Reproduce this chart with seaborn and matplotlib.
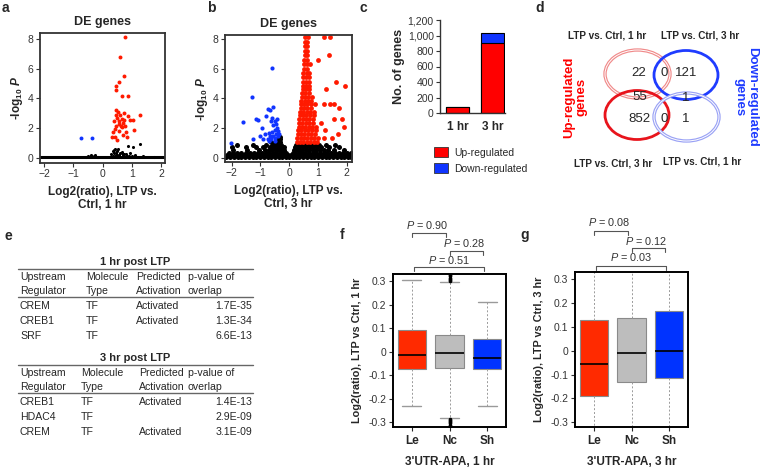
import numpy as np
import pandas as pd
import seaborn as sns
import matplotlib.pyplot as plt
from matplotlib.patches import Ellipse, Patch

sns.set_style('white')
plt.rcParams['font.family'] = ['Liberation Sans', 'DejaVu Sans']
plt.rcParams['mathtext.fontset'] = 'custom'
plt.rcParams['mathtext.rm'] = 'Liberation Sans'
plt.rcParams['mathtext.it'] = 'Liberation Sans:italic'
plt.rcParams['mathtext.bf'] = 'Liberation Sans:bold'
plt.rcParams['mathtext.bfit'] = 'Liberation Sans:italic:bold'

RED = '#ff1a00'
BLUE = '#1034ff'

# ---------------- data ----------------
# a: volcano, 1 hr  (log2 ratio, -log10 P)
a_up = [(0.78, 8.15), (0.60, 6.76), (0.73, 5.50), (0.56, 5.10), (0.46, 4.83), (0.47, 4.56),
        (0.67, 4.18), (0.86, 4.16), (0.45, 3.22), (0.53, 3.10), (0.73, 3.02), (1.28, 2.86),
        (0.45, 2.90), (0.60, 2.90), (0.48, 2.70), (0.66, 2.63), (0.88, 2.80), (0.38, 2.46),
        (0.55, 2.46), (0.71, 2.35), (1.03, 2.57), (0.46, 2.16), (0.62, 2.12), (0.77, 2.16),
        (0.43, 1.93), (0.58, 1.84), (0.80, 1.77), (1.09, 1.88), (0.33, 1.43), (0.43, 1.43),
        (0.37, 1.77), (0.69, 1.54), (0.83, 1.38), (0.51, 1.20), (0.66, 2.05), (0.56, 2.30),
        (0.73, 2.57), (0.94, 2.57)]
a_down = [(-0.74, 1.37), (-0.36, 1.37)]
a_ns = [(0.88, 0.83), (1.28, 0.94), (1.04, 0.76), (0.53, 0.58), (0.38, 0.53), (0.66, 0.42),
        (0.45, 0.35), (0.30, 0.25), (0.35, 0.15), (0.40, 0.30), (0.50, 0.20), (0.55, 0.10),
        (0.60, 0.30), (0.70, 0.18), (0.75, 0.05), (0.80, 0.25), (0.90, 0.12), (0.95, 0.30),
        (1.00, 0.10), (0.32, 0.08), (0.42, 0.12), (0.48, 0.05), (0.58, 0.22), (0.62, 0.08),
        (0.68, 0.35), (0.72, 0.28), (0.85, 0.15), (1.10, 0.20), (1.38, 0.12), (1.75, 0.08),
        (-0.50, 0.12), (-0.40, 0.20), (-0.30, 0.10), (-0.25, 0.18), (-0.20, 0.08), (-0.55, 0.06),
        (-0.15, 0.05), (0.35, 0.45), (0.50, 0.48), (0.44, 0.62)]
a_base_x = [-2.14, -1.62, -1.05, -0.48, 0.07, 0.61, 1.18, 1.73, 2.14]
a_base_y = [0.03] * len(a_base_x)

# b: volcano, 3 hr ; dense clouds listed by row of -log10 P
b_ns_rows = {
    0.04: [-2.18, -2.05, -1.92, -1.79, -1.66, -1.53, -1.4, -1.27, -1.14, -1.01, -0.88, -0.75,
           -0.62, -0.49, -0.36, -0.24, -0.12, 0.0, 0.12, 0.24, 0.36, 0.49, 0.62, 0.75, 0.88,
           1.01, 1.14, 1.27, 1.4, 1.53, 1.66, 1.79, 1.92, 2.05, 2.17],
    0.20: [-2.15, -2.0, -1.86, -1.72, -1.58, -1.44, -1.3, -1.16, -1.02, -0.88, -0.74, -0.6,
           -0.47, -0.34, -0.22, -0.1, -0.04, 0.05, 0.1, 0.2, 0.32, 0.45, 0.58, 0.71, 0.84, 0.97,
           1.1, 1.23, 1.36, 1.5, 1.64, 1.78, 1.92, 2.06, 2.16],
    0.36: [-2.1, -1.95, -1.8, -1.66, -1.5, -1.36, -1.22, -1.08, -0.95, -0.82, -0.7, -0.57,
           -0.45, -0.33, -0.2, -0.12, 0.12, 0.22, 0.33, 0.45, 0.57, 0.7, 0.82, 0.95, 1.08, 1.2,
           1.33, 1.47, 1.6, 1.74, 1.88, 2.0, 2.14],
    0.54: [-1.95, -1.45, -1.05, -0.85, -0.7, -0.58, -0.47, -0.36, -0.26, -0.16,
           0.16, 0.24, 0.34, 0.46, 0.58, 0.7, 0.82, 0.94, 1.06, 1.2, 1.36, 1.55, 1.9],
    0.72: [-2.0, -1.5, -1.15, -0.9, -0.66, -0.54, -0.44, -0.34, -0.24, -0.17, 0.2, 0.27, 0.36,
           0.48, 0.6, 0.72, 0.84, 0.96, 1.12, 1.4, 1.75],
    0.90: [-1.8, -1.25, -0.82, -0.55, -0.45, -0.36, -0.27, 0.25, 0.32, 0.42, 0.54, 0.66, 0.78,
           0.9, 1.05, 1.3, 1.6],
    1.08: [-0.62, -0.48, -0.38, -0.3],
    1.26: [-0.45, -0.36, -0.3],
    1.44: [-0.33],
}
b_up_rows = {
    1.10: [0.27, 0.38, 0.5, 0.62, 0.74, 0.86, 0.98],
    1.35: [0.29, 0.4, 0.52, 0.64, 0.76, 0.88, 1.0, 1.2, 1.5],
    1.60: [0.3, 0.41, 0.53, 0.65, 0.77, 0.9, 1.7],
    1.85: [0.32, 0.43, 0.55, 0.67, 0.79, 0.93, 1.25],
    2.10: [0.33, 0.44, 0.56, 0.68, 0.8, 0.92, 1.9],
    2.35: [0.35, 0.46, 0.58, 0.7, 0.82, 1.1],
    2.60: [0.36, 0.47, 0.59, 0.71, 0.85, 1.55, 1.85],
    2.85: [0.38, 0.49, 0.6, 0.72, 0.86],
    3.10: [0.39, 0.5, 0.61, 0.73, 0.88],
    3.35: [0.41, 0.52, 0.63, 0.75, 1.75],
    3.60: [0.42, 0.53, 0.64, 0.76, 0.9, 1.2, 1.42, 1.56],
    3.85: [0.43, 0.54, 0.65, 0.78],
    4.10: [0.45, 0.56, 0.67, 0.8],
    4.35: [0.46, 0.57, 0.68],
    4.60: [0.47, 0.58, 0.7, 1.3],
    4.85: [0.48, 0.59, 0.7, 1.95],
    5.10: [0.49, 0.6, 0.7, 1.62],
    5.40: [0.5, 0.6, 0.68],
    5.70: [0.5, 0.61, 0.69],
    6.00: [0.51, 0.62],
    6.30: [0.52, 0.62, 0.72],
    6.60: [0.53, 0.63, 1.0],
    6.90: [0.54, 0.64, 1.38],
    7.20: [0.55, 0.63],
    7.50: [0.56, 0.62],
    7.80: [0.56, 0.63],
    8.10: [0.57, 0.66, 1.2, 1.43],
}
b_down = [(-2.03, 1.0), (-1.6, 2.4), (-1.3, 4.1), (-1.15, 2.6), (-1.07, 2.55), (-0.95, 2.0),
          (-1.25, 1.3), (-0.6, 6.05), (-0.55, 3.45), (-0.72, 3.3), (-0.68, 3.2), (-0.8, 2.8),
          (-0.63, 2.5), (-0.5, 2.45), (-0.45, 2.3), (-0.55, 2.2), (-0.42, 2.0), (-0.38, 1.8),
          (-0.5, 1.85), (-0.6, 1.75), (-0.7, 1.7), (-0.85, 1.6), (-0.45, 1.6), (-0.36, 1.6),
          (-0.4, 1.45), (-0.48, 1.35), (-0.55, 1.5), (-0.65, 1.45), (-0.75, 1.3), (-0.9, 1.3),
          (-0.5, 1.15), (-0.7, 1.15), (-0.62, 1.3), (-1.0, 1.5), (-0.43, 2.6), (-0.58, 2.65)]

# c: number of DE genes
times = ['1 hr', '3 hr']
n_up = [77, 907]
n_down = [2, 122]

# d: venn counts
venn_counts = {'up1': 22, 'up1_down3': 0, 'down3': 121, 'up1_up3': 55, 'down3_down1': 1,
               'up3': 852, 'up3_down1': 0, 'down1': 1}

# e: upstream regulators
tab_header = [['Upstream', 'Molecule', 'Predicted', 'p-value of'],
              ['Regulator', 'Type', 'Activation', 'overlap']]
tab1_rows = [['CREM', 'TF', 'Activated', '1.7E-35'],
             ['CREB1', 'TF', 'Activated', '1.3E-34'],
             ['SRF', 'TF', '', '6.6E-13']]
tab3_rows = [['CREB1', 'TF', 'Activated', '1.4E-13'],
             ['HDAC4', 'TF', '', '2.9E-09'],
             ['CREM', 'TF', 'Activated', '3.1E-09']]

# f, g: box statistics (q1, median, q3, whisker low, whisker high)
apa_groups = ['Le', 'Nc', 'Sh']
apa_colors = ['#ff2a00', '#bdbdbd', '#0033ff']
f_q1 = [-0.072, -0.070, -0.075]
f_med = [-0.012, -0.005, -0.027]
f_q3 = [0.092, 0.072, 0.055]
f_lo = [-0.232, -0.280, -0.232]
f_hi = [0.305, 0.295, 0.212]
f_fliers = [[], [0.30, 0.305, 0.31, 0.315, 0.32, 0.325, 0.33, -0.285, -0.29, -0.295, -0.30,
                 -0.305, -0.31, -0.315, -0.32], []]
f_pvals = ['0.90', '0.28', '0.51']
g_q1 = [-0.190, -0.132, -0.115]
g_med = [-0.055, -0.008, -0.003]
g_q3 = [0.130, 0.138, 0.168]
g_lo = [-0.6, -0.6, -0.6]
g_hi = [0.6, 0.6, 0.6]
g_pvals = ['0.08', '0.12', '0.03']

# ---------------- layout helpers ----------------
W, H = 760, 468
fig = plt.figure(figsize=(7.6, 4.68), dpi=100)


def box(l, t, r, b):
    return [l / W, 1 - b / H, (r - l) / W, (b - t) / H]


def ftext(x, y, s, **kw):
    fig.text(x / W, 1 - y / H, s, **kw)


def rows_to_df(rows):
    xs, ys = [], []
    for y, xl in rows.items():
        xs += xl
        ys += [y] * len(xl)
    return pd.DataFrame({'x': xs, 'y': ys})


def pts_df(pts):
    return pd.DataFrame(pts, columns=['x', 'y'])


def volcano_axes(ax, xlim, ylim, title, xlab):
    ax.set_xlim(*xlim)
    ax.set_ylim(*ylim)
    ax.set_xticks([-2, -1, 0, 1, 2])
    ax.set_yticks([0, 2, 4, 6, 8])
    ax.tick_params(labelsize=7.5, length=3, width=0.8, direction='out', pad=1.5,
                   bottom=True, left=True, colors='#333', labelcolor='#333')
    for sp in ax.spines.values():
        sp.set_color('#333')
        sp.set_linewidth(1.3)
    ax.set_title(title, fontsize=9, fontweight='bold', pad=6)
    ax.set_xlabel(xlab, fontsize=8.5, fontweight='bold', labelpad=5, linespacing=1.1)
    ax.set_ylabel(r'-log$_{\mathbf{10}}$ $\mathbfit{P}$', fontsize=8.5, fontweight='bold',
                  labelpad=2)


# ---------------- a ----------------
ax_a = fig.add_axes(box(40, 33, 165, 163))
sns.lineplot(x=a_base_x, y=a_base_y, color='black', lw=2.2, ax=ax_a)
sns.scatterplot(data=pts_df(a_ns), x='x', y='y', color='black', s=5, linewidth=0, ax=ax_a)
sns.scatterplot(data=pts_df(a_up), x='x', y='y', color=RED, s=8, linewidth=0, ax=ax_a)
sns.scatterplot(data=pts_df(a_down), x='x', y='y', color=BLUE, s=8, linewidth=0, ax=ax_a)
volcano_axes(ax_a, (-2.14, 2.14), (-0.34, 8.39), 'DE genes', 'Log2(ratio), LTP vs.\nCtrl, 1 hr')

# ---------------- b ----------------
ax_b = fig.add_axes(box(225, 35, 352, 162))
sns.scatterplot(data=rows_to_df(b_ns_rows), x='x', y='y', color='black', s=13, linewidth=0, ax=ax_b)
sns.scatterplot(data=rows_to_df(b_up_rows), x='x', y='y', color=RED, s=12, linewidth=0, ax=ax_b)
sns.scatterplot(data=pts_df(b_down), x='x', y='y', color=BLUE, s=9, linewidth=0, ax=ax_b)
volcano_axes(ax_b, (-2.23, 2.19), (-0.27, 8.25), 'DE genes', 'Log2(ratio), LTP vs.\nCtrl, 3 hr')

# ---------------- c ----------------
ax_c = fig.add_axes(box(440, 20, 505, 113))
totals = [u + d for u, d in zip(n_up, n_down)]
sns.barplot(x=times, y=totals, color=BLUE, width=0.66, edgecolor='black', linewidth=0.8,
            saturation=1, ax=ax_c)
sns.barplot(x=times, y=n_up, color='#ff0000', width=0.66, edgecolor='black', linewidth=0.8,
            saturation=1, ax=ax_c)
ax_c.set_xlim(-0.5, 1.36)
ax_c.set_ylim(0, 1200)
ax_c.set_yticks(range(0, 1201, 200))
ax_c.set_yticklabels([f'{v:,}' for v in range(0, 1201, 200)])
sns.despine(ax=ax_c)
for sp in ax_c.spines.values():
    sp.set_color('#333')
    sp.set_linewidth(1.0)
ax_c.tick_params(axis='y', labelsize=7.5, length=3, left=True, pad=1.5, colors='#333')
ax_c.tick_params(axis='x', labelsize=8.5, length=0, pad=6)
for t in ax_c.get_xticklabels():
    t.set_fontweight('bold')
ax_c.set_ylabel('No. of genes', fontsize=9, fontweight='bold', labelpad=2)
ax_c.set_xlabel('')
fig.legend(handles=[Patch(fc='#ff0000', ec='#333', lw=0.6), Patch(fc=BLUE, ec='#333', lw=0.6)],
           labels=['Up-regulated', 'Down-regulated'], loc='upper left',
           bbox_to_anchor=(430 / W, 1 - 143 / H), frameon=False, fontsize=7.5,
           handlelength=1.3, handleheight=1.1, labelspacing=0.55, handletextpad=0.6,
           borderaxespad=0)

# ---------------- d ----------------
ax_d = fig.add_axes(box(560, 0, 760, 200))
ax_d.set_xlim(560, 760)
ax_d.set_ylim(200, 0)
ax_d.axis('off')
# pale double rings for 1 hr sets, solid rings for 3 hr sets
for (cx, cy, col, pale) in [(637.5, 74, '#f08a8a', True), (686, 75, '#1f3cff', False),
                            (637, 115, '#e8141c', False), (686.5, 117, '#9aa2f5', True)]:
    if pale:
        ax_d.add_patch(Ellipse((cx, cy), 65, 48, fill=False, ec=col, lw=2.4))
        ax_d.add_patch(Ellipse((cx, cy), 65, 48, fill=False, ec='white', lw=0.7))
    else:
        ax_d.add_patch(Ellipse((cx, cy), 64, 49, fill=False, ec=col, lw=2.0))
venn_pos = {'up1': (639, 73), 'up1_down3': (664, 73), 'down3': (686, 73), 'up1_up3': (640, 97),
            'down3_down1': (686, 98), 'up3': (639, 119), 'up3_down1': (664, 119), 'down1': (686, 119)}
for k, (x, y) in venn_pos.items():
    ax_d.text(x, y, str(venn_counts[k]), ha='center', va='center', fontsize=9.5)
for (x, y, s) in [(607, 35, 'LTP vs. Ctrl, 1 hr'), (700, 36, 'LTP vs. Ctrl, 3 hr'),
                  (613, 163, 'LTP vs. Ctrl, 3 hr'), (702, 162, 'LTP vs. Ctrl, 1 hr')]:
    ax_d.text(x, y, s, ha='center', va='center', fontsize=7.2, fontweight='bold')
ax_d.text(575, 97, 'Up-regulated\ngenes', ha='center', va='center', rotation=90,
          color='#ff0000', fontsize=9.5, fontweight='bold', linespacing=1.0)
ax_d.text(746, 97, 'Down-regulated\ngenes', ha='center', va='center', rotation=270,
          color='#1f3cff', fontsize=9.5, fontweight='bold', linespacing=1.0)

# ---------------- e ----------------
ax_e = fig.add_axes(box(0, 225, 290, 468))
ax_e.set_xlim(0, 290)
ax_e.set_ylim(468, 225)
ax_e.axis('off')


def draw_table(y0, title, rows, colx):
    ax_e.text(135, y0, title, ha='center', va='center', fontsize=8, fontweight='bold')
    ax_e.plot([18, 253], [y0 + 6.5, y0 + 6.5], color='#666', lw=1)
    for i, hrow in enumerate(tab_header):
        y = y0 + 15 + 14 * i
        for j, s in enumerate(hrow):
            ax_e.text(colx[j], y, s, ha='left', va='center', fontsize=7.6)
    ax_e.plot([18, 253], [y0 + 35, y0 + 35], color='#666', lw=1)
    for i, r in enumerate(rows):
        y = y0 + 44 + 15 * i
        for j, s in enumerate(r[:3]):
            ax_e.text(colx[j], y, s, ha='left', va='center', fontsize=7.6)
        ax_e.text(252, y, r[3], ha='right', va='center', fontsize=7.6)


draw_table(262, '1 hr post LTP', tab1_rows, [20, 86, 136, 188])
draw_table(358, '3 hr post LTP', tab3_rows, [20, 81, 139, 188])


# ---------------- f, g ----------------
def apa_box(ax, q1, med, q3, lo, hi, fliers, pvals, ylab, xlab, ptext_y, br_y):
    stats = [dict(q1=a, med=b, q3=c, whislo=d, whishi=e, fliers=f, label=g)
             for a, b, c, d, e, f, g in zip(q1, med, q3, lo, hi, fliers, apa_groups)]
    bp = ax.bxp(stats, positions=[1, 2, 3], widths=0.75, patch_artist=True, showfliers=True,
                boxprops=dict(ec='#8a8a8a', lw=0.8),
                medianprops=dict(color='black', lw=1.2),
                whiskerprops=dict(color='#9a9a9a', ls=(0, (2, 2)), lw=0.7),
                capprops=dict(color='#9a9a9a', lw=1.0), capwidths=0.5,
                flierprops=dict(marker='o', ms=1.6, mfc='black', mec='black', ls='none'))
    for patch, col in zip(bp['boxes'], apa_colors):
        patch.set_facecolor(col)
    ax.set_xlim(0.5, 3.5)
    ax.set_ylim(-0.32, 0.33)
    yt = [-0.3, -0.2, -0.1, 0, 0.1, 0.2, 0.3]
    ax.set_yticks(yt)
    ax.set_yticklabels(['-0.3', '-0.2', '-0.1', '0', '0.1', '0.2', '0.3'])
    ax.tick_params(axis='y', labelsize=7.5, length=3, left=True, pad=2, colors='#333')
    ax.tick_params(axis='x', labelsize=8.5, length=3, bottom=True, pad=3)
    for t in ax.get_xticklabels():
        t.set_fontweight('bold')
    for sp in ax.spines.values():
        sp.set_color('black')
        sp.set_linewidth(1.4)
    ax.set_ylabel(ylab, fontsize=7.8, fontweight='bold', labelpad=4)
    ax.set_xlabel(xlab, fontsize=8.5, fontweight='bold', labelpad=6)
    pairs = [(1.0, 1.92), (2.0, 2.88), (1.05, 2.92)]
    tx = [1.42, 2.38, 1.98]
    for (x0, x1), p, ty, by, xx in zip(pairs, pvals, ptext_y, br_y, tx):
        ax.plot([x0, x0, x1, x1], [by - 0.018, by, by, by - 0.018], color='#555', lw=0.8,
                clip_on=False)
        ax.text(xx, ty, r'$\mathit{P}$ = ' + p, ha='center', va='center', fontsize=7.8,
                color='#333', clip_on=False)


ax_f = fig.add_axes(box(393, 274, 506, 427))
apa_box(ax_f, f_q1, f_med, f_q3, f_lo, f_hi, f_fliers, f_pvals,
        'Log2(ratio), LTP vs Ctrl, 1 hr', "3'UTR-APA, 1 hr",
        [0.538, 0.462, 0.39], [0.504, 0.428, 0.36])
ax_g = fig.add_axes(box(575, 272, 688, 427))
apa_box(ax_g, g_q1, g_med, g_q3, g_lo, g_hi, [[], [], []], g_pvals,
        'Log2(ratio), LTP vs Ctrl, 3 hr', "3'UTR-APA, 3 hr",
        [0.54, 0.46, 0.394], [0.504, 0.43, 0.355])

# ---------------- panel letters ----------------
for (x, y, s) in [(5, 8, 'a'), (211, 8, 'b'), (363, 8, 'c'), (540, 8, 'd'),
                  (8, 236, 'e'), (342, 235, 'f'), (525, 235, 'g')]:
    ftext(x, y, s, fontsize=10, fontweight='bold', ha='center', va='center')

fig.savefig('out.png', dpi=100)
